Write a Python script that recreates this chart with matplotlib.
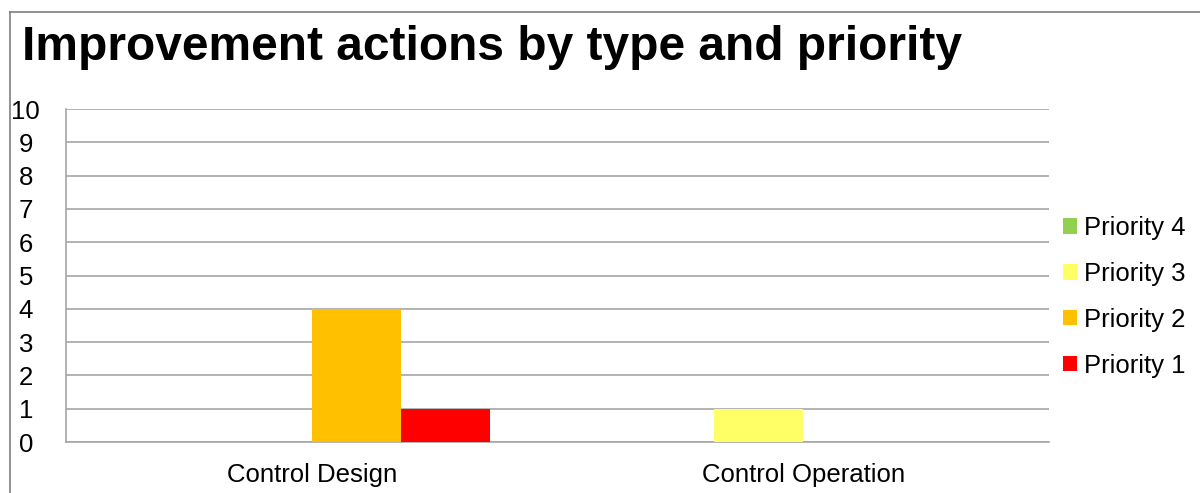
import matplotlib
matplotlib.use("Agg")
import matplotlib.pyplot as plt
from matplotlib.lines import Line2D
import numpy as np

plt.rcParams["font.family"] = ["Liberation Sans", "DejaVu Sans"]

categories = ["Control Design", "Control Operation"]
series_names = ["Priority 4", "Priority 3", "Priority 2", "Priority 1"]
series_values = [
    [0, 0],  # Priority 4
    [0, 1],  # Priority 3
    [4, 0],  # Priority 2
    [1, 0],  # Priority 1
]
series_colors = ["#92D050", "#FFFF66", "#FFC000", "#FF0000"]
y_ticks = list(range(0, 11))

fig = plt.figure(figsize=(12.0, 4.93), dpi=100)
ax = fig.add_axes([0.055, 0.1034, 0.819, 0.6755])

x = np.arange(len(categories))
width = 0.181
n = len(series_names)
handles = []
for i, (name, vals, col) in enumerate(zip(series_names, series_values, series_colors)):
    offs = (i - (n - 1) / 2) * width
    b = ax.bar(x + offs, vals, width=width, color=col, label=name, zorder=3)
    handles.append(b)

ax.set_xlim(-0.5, len(categories) - 0.5)
ax.set_ylim(0, 10)
ax.set_yticks(y_ticks)
ax.set_xticks(x)
ax.set_xticklabels(categories, fontsize=18.5)
ax.tick_params(axis="y", labelsize=18.5, length=0, pad=29)
ax.tick_params(axis="x", length=0, pad=15)
for lab in ax.get_yticklabels():
    lab.set_horizontalalignment("center")
ax.yaxis.grid(True, color="#A6A6A6", linewidth=1.2, zorder=0)
for side in ["top", "right"]:
    ax.spines[side].set_visible(False)
for side in ["left", "bottom"]:
    ax.spines[side].set_color("#A6A6A6")
    ax.spines[side].set_linewidth(1.2)

# legend lists the series in the same order as drawn (Priority 4 first)
fig.legend(handles, series_names, loc="center left",
           bbox_to_anchor=(0.886, 0.398), frameon=False, fontsize=18.5,
           handlelength=0.55, handleheight=0.55, handletextpad=0.25,
           labelspacing=0.85, borderpad=0, borderaxespad=0)

fig.text(22 / 1200, 1 - 48 / 493, "Improvement actions by type and priority",
         fontsize=34.5, fontweight="bold", va="center", ha="left")

# outer chart border (cropped on right/bottom)
bx, by = 10 / 1200, 1 - 12 / 493
fig.add_artist(Line2D([bx, 1.0], [by, by], transform=fig.transFigure,
                      color="#7F7F7F", linewidth=1.2))
fig.add_artist(Line2D([bx, bx], [0.0, by], transform=fig.transFigure,
                      color="#7F7F7F", linewidth=1.2))

fig.savefig("out.png", dpi=100)
plt.close(fig)
